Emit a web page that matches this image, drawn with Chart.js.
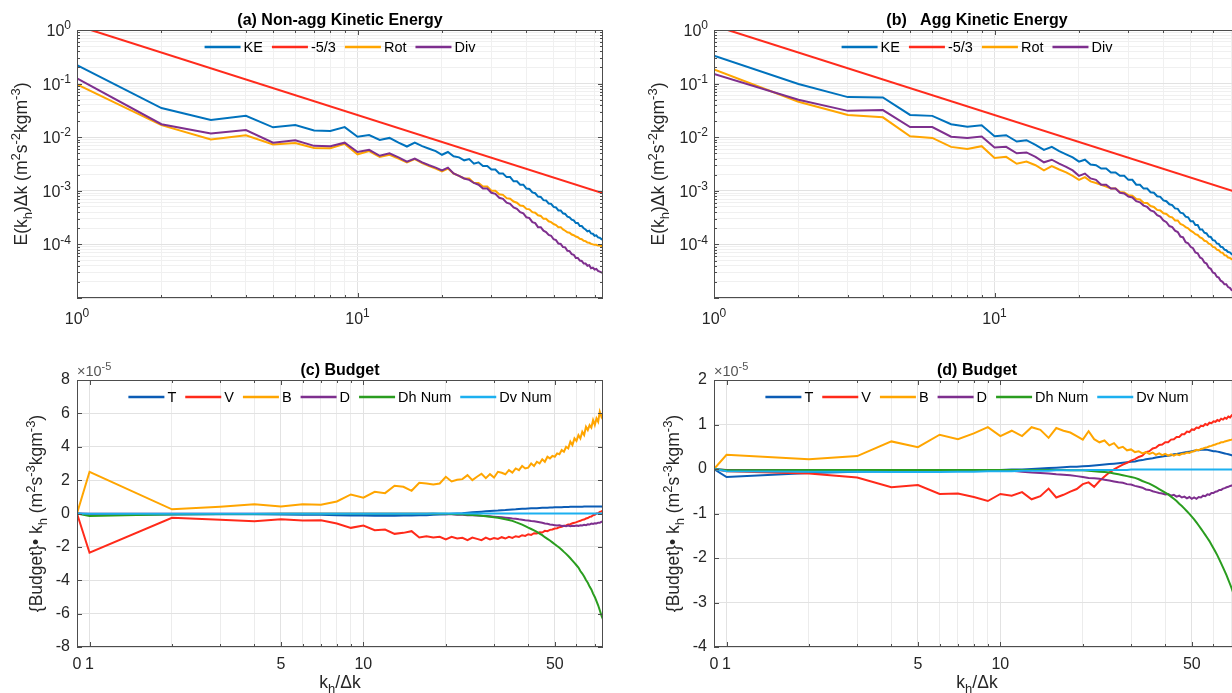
<!DOCTYPE html>
<html>
<head>
<meta charset="utf-8">
<script src="https://cdn.jsdelivr.net/npm/chart.js@4.4.1/dist/chart.umd.min.js"></script>
<style>
  html, body { margin: 0; padding: 0; background: #fff; }
  #fig { position: relative; width: 1232px; height: 693px; overflow: hidden; background: #fff; }
  #fig canvas { position: absolute; }
</style>
</head>
<body>
<div id="fig">
  <canvas id="chart-a" width="637" height="340" style="left:0;top:0"></canvas>
  <canvas id="chart-b" width="637" height="340" style="left:637px;top:0"></canvas>
  <canvas id="chart-c" width="637" height="353" style="left:0;top:340px"></canvas>
  <canvas id="chart-d" width="637" height="353" style="left:637px;top:340px"></canvas>
</div>
<script>
/* ---------- spectra (panels a, b) ---------- */
var K_SPEC = [1,2,3,4,5,6,7,8,9,10,11,12,13,14,15,16,17,18,19,20,21,22,23,24,25,26,27,28,29,30,
  31,32,33,34,35,36,37,38,39,40,41,42,43,44,45,46,47,48,49,50,51,52,53,54,55,56,57,58,59,60,
  61,62,63,64,65,66,67,68,69,70,71,72,73,74,75];

// -5/3 reference line, end points
var REF_K = [1.12, 75];
var REF_E = [1, 9.0e-4];

var KE_A = [0.22,0.035,0.021,0.025,0.0153,0.0168,0.0133,0.0131,0.0154,0.0102,
  0.011,0.0089,0.0097,0.0079,0.0067,0.0079,0.0068,0.0061,0.0055,0.0047,
  0.0053,0.0044,0.0042,0.0037,0.0039,0.0032,0.0034,0.0029,0.0029,0.0025,
  0.0025,0.0021,0.0021,0.0018,0.0018,0.0015,0.0015,0.0013,0.0013,0.0011,
  0.00108,0.00093,0.0009,0.00078,0.00077,0.00067,0.00066,0.00058,0.00057,0.0005,
  0.00049,0.00043,0.00043,0.00038,0.00037,0.00033,0.00032,0.00029,0.00028,0.00025,
  0.00025,0.00022,0.00022,0.0002,0.00019,0.000175,0.00018,0.00016,0.000158,0.000145,
  0.000148,0.000135,0.000133,0.000126,0.000122];
var ROT_A = [0.097,0.0168,0.0091,0.0109,0.0073,0.0078,0.0063,0.0062,0.0075,0.0048,
  0.0055,0.0043,0.0047,0.004,0.0034,0.0039,0.0033,0.0029,0.0026,0.0023,
  0.0026,0.0021,0.0019,0.0017,0.0017,0.0014,0.0014,0.0012,0.0012,0.001,
  0.001,0.00086,0.00084,0.00073,0.00071,0.00063,0.0006,0.00053,0.00052,0.00046,
  0.00045,0.0004,0.00039,0.00035,0.00034,0.0003,0.0003,0.00027,0.00026,0.00024,
  0.00023,0.00021,0.00021,0.00019,0.00018,0.000168,0.000165,0.000153,0.000148,0.00014,
  0.000136,0.000127,0.000125,0.000117,0.000115,0.000108,0.000107,0.000102,0.0001,0.000098,
  0.000098,0.000095,0.000095,0.000093,0.000093];
var DIV_A = [0.125,0.0175,0.0117,0.0136,0.0079,0.0088,0.0069,0.0068,0.0079,0.0053,
  0.0058,0.0045,0.005,0.0042,0.0035,0.004,0.0034,0.003,0.0027,0.0024,
  0.0027,0.0021,0.0019,0.0017,0.0016,0.0014,0.0013,0.0011,0.0011,0.00092,
  0.00088,0.00074,0.00071,0.0006,0.00057,0.00049,0.00046,0.0004,0.00038,0.00032,
  0.00031,0.00026,0.00025,0.00021,0.00021,0.00018,0.00017,0.00015,0.000145,0.000125,
  0.00012,0.000104,0.000102,0.000089,0.000088,0.000076,0.000075,0.000066,0.000064,0.000056,
  0.000056,0.00005,0.000049,0.000044,0.000044,0.00004,0.000041,0.000036,0.000037,0.000034,
  0.000035,0.000032,0.000031,0.00003,0.000029];

var KE_B = [0.33,0.098,0.056,0.055,0.026,0.025,0.0175,0.0157,0.0167,0.0104,
  0.0109,0.0083,0.0088,0.0072,0.0058,0.0066,0.0055,0.0048,0.0042,0.0035,
  0.0038,0.0031,0.003,0.0026,0.0026,0.0022,0.0022,0.0019,0.0019,0.0016,
  0.0016,0.0013,0.0013,0.0011,0.0011,0.00094,0.00092,0.00079,0.00077,0.00066,
  0.00064,0.00056,0.00054,0.00047,0.00046,0.00039,0.00038,0.00033,0.00032,0.00027,
  0.00027,0.00023,0.00023,0.00019,0.00019,0.000165,0.00016,0.00014,0.000138,0.00012,
  0.000118,0.000104,0.000102,0.00009,0.000089,0.00008,0.000078,0.000072,0.000071,0.000066,
  0.000064,0.00006,0.000058,0.000055,0.000052];
var ROT_B = [0.184,0.046,0.026,0.0235,0.0104,0.0097,0.0066,0.006,0.0068,0.0041,
  0.0043,0.0032,0.0035,0.003,0.0024,0.0029,0.0025,0.0022,0.0019,0.0016,
  0.0018,0.0015,0.0014,0.0013,0.0012,0.0011,0.0011,0.00095,0.00093,0.00083,
  0.00081,0.0007,0.00069,0.0006,0.00059,0.00052,0.0005,0.00044,0.00043,0.00038,
  0.00037,0.00033,0.00032,0.00028,0.00028,0.00024,0.00023,0.00021,0.0002,0.00018,
  0.00017,0.000155,0.00015,0.000135,0.00013,0.000117,0.000114,0.000103,0.0001,0.00009,
  0.000088,0.00008,0.000078,0.000071,0.00007,0.000063,0.000062,0.000057,0.000056,0.000053,
  0.000051,0.000048,0.000047,0.000044,0.000042];
var DIV_B = [0.152,0.05,0.031,0.032,0.0155,0.0155,0.0102,0.0097,0.0103,0.0064,
  0.0066,0.005,0.0052,0.0043,0.0034,0.0038,0.0032,0.0028,0.0024,0.0019,
  0.0021,0.0017,0.0016,0.0013,0.0013,0.0011,0.0011,0.00092,0.00089,0.00078,
  0.00075,0.00064,0.00061,0.00053,0.0005,0.00043,0.00041,0.00035,0.00033,0.00028,
  0.00026,0.00022,0.00021,0.00018,0.00017,0.00014,0.000135,0.00011,0.000105,0.00009,
  0.000085,0.000071,0.000068,0.000057,0.000054,0.000046,0.000044,0.000037,0.000035,0.00003,
  0.000029,0.000025,0.000024,0.000021,0.00002,0.000018,0.000018,0.000016,0.0000155,0.000014,
  0.0000138,0.000013,0.0000127,0.000012,0.0000115];

var SPEC_X_LABELS = [1, 10];
var SPEC_Y_LABELS = [1, 0.1, 0.01, 0.001, 0.0001];

/* ---------- budgets (panels c, d), units of 1e-5 ---------- */
var K_BUD = [0,1,2,3,4,5,6,7,8,9,10,11,12,13,14,15,16,17,18,19,20,21,22,23,24,25,26,27,28,29,30,
  31,32,33,34,35,36,37,38,39,40,41,42,43,44,45,46,47,48,49,50,51,52,53,54,55,56,57,58,59,60,
  61,62,63,64,65,66,67,68,69,70,71,72,73,74,75];
var K_ZERO = 0.9; // where k = 0 sits on the log axis (left edge)

var T_C = [0,-0.08,-0.06,-0.05,-0.05,-0.06,-0.08,-0.08,-0.1,-0.12,
  -0.12,-0.14,-0.13,-0.14,-0.12,-0.12,-0.1,-0.1,-0.08,-0.06,
  -0.04,-0.02,0,0.02,0.05,0.07,0.09,0.11,0.13,0.15,
  0.17,0.18,0.2,0.21,0.23,0.24,0.25,0.27,0.28,0.29,
  0.3,0.31,0.32,0.32,0.33,0.34,0.35,0.35,0.36,0.36,
  0.37,0.37,0.38,0.38,0.39,0.39,0.39,0.4,0.4,0.4,
  0.41,0.41,0.41,0.41,0.42,0.42,0.42,0.42,0.42,0.42,
  0.42,0.42,0.42,0.42,0.42,0.41];
var V_C = [0,-2.35,-0.26,-0.38,-0.47,-0.34,-0.42,-0.4,-0.6,-0.86,
  -0.72,-1.0,-0.96,-1.22,-1.16,-1.06,-1.44,-1.36,-1.44,-1.4,
  -1.55,-1.4,-1.5,-1.46,-1.6,-1.44,-1.52,-1.6,-1.44,-1.55,
  -1.47,-1.52,-1.42,-1.5,-1.4,-1.46,-1.36,-1.4,-1.3,-1.34,
  -1.24,-1.28,-1.18,-1.2,-1.12,-1.14,-1.04,-1.06,-0.98,-0.96,
  -0.9,-0.88,-0.82,-0.8,-0.74,-0.72,-0.66,-0.64,-0.58,-0.56,
  -0.52,-0.47,-0.44,-0.38,-0.36,-0.3,-0.27,-0.2,-0.18,-0.1,
  -0.08,0,0.02,0.1,0.12,0.2];
var B_C = [0,2.5,0.25,0.4,0.55,0.42,0.56,0.52,0.72,1.14,
  0.95,1.3,1.22,1.66,1.6,1.36,1.84,1.8,1.74,1.8,
  2.2,1.92,2.02,2.06,2.3,2.0,2.2,2.38,2.12,2.36,
  2.16,2.5,2.44,2.35,2.6,2.45,2.7,2.6,2.85,2.7,
  2.75,3.0,2.85,3.1,3.0,3.25,3.1,3.4,3.3,3.45,
  3.4,3.6,3.55,3.8,3.7,4.0,3.9,4.3,4.1,4.5,
  4.35,4.7,4.5,4.9,4.7,5.2,5.0,5.3,5.15,5.6,
  5.3,5.7,5.5,6.1,5.8,6.05];
var D_C = [0,-0.02,-0.02,-0.02,-0.02,-0.02,-0.02,-0.02,-0.02,-0.02,
  -0.02,-0.02,-0.02,-0.02,-0.02,-0.02,-0.02,-0.02,-0.02,-0.03,
  -0.04,-0.05,-0.07,-0.08,-0.1,-0.11,-0.12,-0.14,-0.15,-0.17,
  -0.19,-0.21,-0.23,-0.25,-0.27,-0.3,-0.32,-0.35,-0.37,-0.4,
  -0.42,-0.45,-0.47,-0.5,-0.53,-0.56,-0.6,-0.62,-0.66,-0.68,
  -0.7,-0.72,-0.7,-0.75,-0.73,-0.76,-0.72,-0.76,-0.73,-0.75,
  -0.72,-0.74,-0.7,-0.72,-0.68,-0.7,-0.65,-0.66,-0.6,-0.63,
  -0.58,-0.6,-0.55,-0.56,-0.5,-0.5];
var DH_C = [0,-0.15,-0.05,-0.03,-0.03,-0.02,-0.02,-0.02,-0.02,-0.02,
  -0.02,-0.02,-0.02,-0.02,-0.02,-0.02,-0.02,-0.02,-0.02,-0.02,
  -0.02,-0.03,-0.04,-0.05,-0.07,-0.09,-0.11,-0.13,-0.16,-0.19,
  -0.22,-0.26,-0.3,-0.34,-0.39,-0.44,-0.52,-0.59,-0.67,-0.76,
  -0.85,-0.93,-1.01,-1.1,-1.2,-1.3,-1.42,-1.52,-1.62,-1.73,
  -1.84,-1.95,-2.05,-2.17,-2.3,-2.42,-2.55,-2.68,-2.82,-2.96,
  -3.1,-3.24,-3.45,-3.6,-3.78,-3.98,-4.15,-4.38,-4.55,-4.8,
  -5.0,-5.25,-5.5,-5.8,-6.1,-6.35];
var DV_C = [0,-0.02,-0.01,-0.01,-0.01,-0.01,-0.01,-0.01,-0.01,-0.01,
  -0.01,-0.01,-0.01,-0.01,-0.01,-0.01,-0.01,-0.01,0,0,
  0,0,0,0,0,0,0,0,0,0,
  0,0,0,0,0,0,0,0,0,0,
  0,0,0,0,0,0,0,0,0,0,
  0,0,0,0,0,0,0,0,0,0,
  0,0,0,0,0,0,0,0,0,0,
  0,0,0,0,0,0];

var T_D = [0,-0.18,-0.09,-0.06,-0.05,-0.04,-0.04,-0.04,-0.03,-0.03,
  -0.02,-0.01,-0.01,0,0.01,0.02,0.03,0.04,0.05,0.05,
  0.06,0.07,0.08,0.09,0.1,0.11,0.12,0.13,0.14,0.15,
  0.16,0.17,0.19,0.2,0.22,0.23,0.24,0.26,0.27,0.28,
  0.29,0.3,0.31,0.33,0.34,0.35,0.36,0.37,0.38,0.39,
  0.4,0.41,0.42,0.42,0.43,0.43,0.44,0.43,0.42,0.41,
  0.4,0.4,0.39,0.38,0.37,0.36,0.35,0.34,0.33,0.32,
  0.31,0.3,0.29,0.28,0.27,0.26];
var V_D = [0,-0.05,-0.1,-0.19,-0.41,-0.36,-0.56,-0.55,-0.63,-0.72,
  -0.56,-0.6,-0.52,-0.68,-0.61,-0.44,-0.64,-0.58,-0.51,-0.45,
  -0.34,-0.3,-0.4,-0.27,-0.17,-0.08,-0.01,0.05,0.1,0.14,
  0.19,0.22,0.27,0.3,0.38,0.4,0.46,0.48,0.54,0.55,
  0.6,0.6,0.66,0.67,0.72,0.72,0.78,0.78,0.84,0.83,
  0.89,0.88,0.93,0.92,0.97,0.96,1.01,0.99,1.04,1.03,
  1.07,1.06,1.1,1.08,1.13,1.11,1.15,1.13,1.18,1.16,
  1.21,1.19,1.23,1.21,1.25,1.24];
var B_D = [0,0.32,0.22,0.29,0.62,0.49,0.77,0.67,0.8,0.94,
  0.74,0.86,0.74,0.94,0.88,0.7,0.92,0.86,0.82,0.74,
  0.66,0.85,0.67,0.6,0.64,0.53,0.58,0.47,0.5,0.42,
  0.44,0.38,0.4,0.35,0.38,0.34,0.37,0.32,0.35,0.31,
  0.34,0.3,0.33,0.3,0.33,0.31,0.34,0.34,0.37,0.36,
  0.39,0.4,0.43,0.42,0.45,0.46,0.48,0.49,0.51,0.52,
  0.54,0.55,0.57,0.58,0.6,0.6,0.62,0.63,0.64,0.65,
  0.66,0.68,0.69,0.7,0.71,0.72];
var D_D = [0,-0.02,-0.02,-0.02,-0.02,-0.02,-0.02,-0.02,-0.02,-0.02,
  -0.03,-0.04,-0.06,-0.08,-0.09,-0.1,-0.12,-0.13,-0.14,-0.16,
  -0.18,-0.2,-0.21,-0.22,-0.24,-0.26,-0.28,-0.3,-0.31,-0.34,
  -0.35,-0.38,-0.4,-0.42,-0.46,-0.47,-0.5,-0.52,-0.54,-0.55,
  -0.57,-0.56,-0.6,-0.58,-0.62,-0.6,-0.64,-0.62,-0.66,-0.63,
  -0.67,-0.64,-0.67,-0.63,-0.64,-0.6,-0.61,-0.57,-0.58,-0.54,
  -0.54,-0.51,-0.5,-0.47,-0.47,-0.44,-0.43,-0.41,-0.4,-0.38,
  -0.37,-0.35,-0.34,-0.32,-0.31,-0.3];
var DH_D = [0,-0.03,-0.02,-0.02,-0.02,-0.02,-0.02,-0.02,-0.02,-0.02,
  -0.02,-0.02,-0.02,-0.02,-0.02,-0.02,-0.02,-0.02,-0.03,-0.03,
  -0.03,-0.04,-0.05,-0.06,-0.07,-0.08,-0.1,-0.12,-0.14,-0.16,
  -0.18,-0.2,-0.23,-0.27,-0.3,-0.33,-0.37,-0.41,-0.45,-0.49,
  -0.53,-0.57,-0.62,-0.67,-0.72,-0.78,-0.83,-0.89,-0.95,-1.01,
  -1.07,-1.13,-1.2,-1.27,-1.34,-1.41,-1.48,-1.55,-1.62,-1.7,
  -1.78,-1.86,-1.94,-2.03,-2.12,-2.21,-2.3,-2.39,-2.49,-2.59,
  -2.69,-2.8,-2.91,-3.02,-3.14,-3.26];
var DV_D = [0,-0.05,-0.06,-0.06,-0.07,-0.07,-0.07,-0.06,-0.06,-0.05,
  -0.05,-0.05,-0.04,-0.04,-0.04,-0.04,-0.03,-0.03,-0.03,-0.03,
  -0.03,-0.02,-0.02,-0.02,-0.02,-0.02,-0.02,-0.02,-0.02,-0.02,
  -0.01,-0.01,-0.01,-0.01,-0.01,-0.01,-0.01,-0.01,-0.01,-0.01,
  -0.01,-0.01,-0.01,-0.01,-0.01,-0.01,-0.01,-0.01,-0.01,-0.01,
  -0.01,-0.01,-0.01,-0.01,-0.01,-0.01,-0.01,-0.01,-0.01,-0.01,
  -0.01,-0.01,-0.01,-0.01,-0.01,-0.01,-0.01,-0.01,-0.01,-0.01,
  -0.01,-0.01,-0.01,-0.01,-0.01,-0.01];

var BUD_X_LABELS = [1, 5, 10, 50];

/* ---------- look ---------- */
var FONT = '"Liberation Sans", Arial, Helvetica, sans-serif';
var TXT = '#262626';
var AXIS = '#4d4d4d';
var GRID_MAJOR = '#e2e2e2';
var GRID_MINOR = '#f0f0f0';
var COL = {
  ke: '#0072BD', ref: '#FF2B1C', rot: '#FFA500', div: '#7E2F8E',
  t: '#0B5CB5', v: '#FF2A1A', b: '#FFA500', d: '#7E2F8E', dh: '#2A9D1F', dv: '#1CB0F0'
};

Chart.defaults.font.family = FONT;
Chart.defaults.font.size = 16;
Chart.defaults.color = TXT;

/* ---------- helpers ---------- */
function isDecade(v){
  var l = Math.log10(v);
  return Math.abs(l - Math.round(l)) < 1e-6;
}
function sameVal(a, b){ return Math.abs(a - b) < 1e-9 * Math.max(1, Math.abs(a)); }
function inList(v, list){
  for (var i = 0; i < list.length; i++) if (Math.abs(v - list[i]) / list[i] < 1e-6) return true;
  return false;
}
// "10" with a raised exponent, drawn as rich text
function powSegs(v){ return [['10', 0], [String(Math.round(Math.log10(v))), 1]]; }

// 1..9 x 10^n between lo and hi (grid and tick positions)
function logTicks(lo, hi){
  var out = [];
  for (var e = Math.floor(Math.log10(lo)); e <= Math.ceil(Math.log10(hi)); e++) {
    for (var m = 1; m < 10; m++) {
      var v = +(m * Math.pow(10, e)).toPrecision(6);
      if (v >= lo * 0.9999 && v <= hi * 1.0001) out.push(v);
    }
  }
  return out;
}
function pts(xs, ys){
  return ys.map(function(v, i){ return {x: xs[i] === 0 ? K_ZERO : xs[i], y: v}; });
}
function line(label, xs, ys, color){
  return {label: label, data: pts(xs, ys), borderColor: color, backgroundColor: color,
    borderWidth: 2, pointRadius: 0, tension: 0, fill: false};
}

// rich text: segs = [[text, kind]], kind 0 normal, 1 superscript, -1 subscript
function richWidth(ctx, segs, size){
  var w = 0;
  segs.forEach(function(s){
    ctx.font = (s[1] ? Math.round(size * 0.74) : size) + 'px ' + FONT;
    w += ctx.measureText(s[0]).width;
  });
  return w;
}
function drawRich(ctx, segs, x, y, size){
  ctx.textAlign = 'left';
  ctx.textBaseline = 'alphabetic';
  segs.forEach(function(s){
    var sz = s[1] ? Math.round(size * 0.74) : size;
    var dy = s[1] === 1 ? -size * 0.42 : (s[1] === -1 ? size * 0.28 : 0);
    ctx.font = sz + 'px ' + FONT;
    ctx.fillText(s[0], x, y + dy);
    x += ctx.measureText(s[0]).width;
  });
}

var YLAB_SPEC = [['E(k',0],['h',-1],[')\u0394k (m',0],['2',1],['s',0],['-2',1],['kgm',0],['-3',1],[')',0]];
var YLAB_BUD = [['{Budget}\u2022 k',0],['h',-1],[' (m',0],['2',1],['s',0],['-3',1],['kgm',0],['-3',1],[')',0]];
var XLAB_BUD = [['k',0],['h',-1],['/\u0394k',0]];
var EXP_BUD = [['\u00D710',0],['-5',1]];

var DECOR = {
  'chart-a': {title: '(a) Non-agg Kinetic Energy', ylab: YLAB_SPEC, ylabX: 21, legendDy: 17, logLabels: true},
  'chart-b': {title: '(b)   Agg Kinetic Energy', ylab: YLAB_SPEC, ylabX: 21, legendDy: 17, logLabels: true},
  'chart-c': {title: '(c) Budget', ylab: YLAB_BUD, ylabX: 36, legendDy: 17, xlab: XLAB_BUD, xlabY: 348, exp: EXP_BUD},
  'chart-d': {title: '(d) Budget', ylab: YLAB_BUD, ylabX: 36, legendDy: 17, xlab: XLAB_BUD, xlabY: 348, exp: EXP_BUD}
};

/* ---------- frame: box, inner ticks, legend, titles ---------- */
var figPlugin = {
  id: 'figDecor',
  afterDraw: function(chart){
    var d = DECOR[chart.canvas.id];
    var ctx = chart.ctx, a = chart.chartArea;
    var xs = chart.scales.x, ys = chart.scales.y;
    var budget = !!d.xlab;
    ctx.save();

    // inner tick marks on all four sides
    ctx.strokeStyle = AXIS;
    ctx.lineWidth = 1;
    ctx.beginPath();
    xs.ticks.forEach(function(t){
      var px = Math.round(xs.getPixelForValue(t.value)) + 0.5;
      var major = budget ? inList(t.value, BUD_X_LABELS) : isDecade(t.value);
      var len = major ? 5 : 3;
      ctx.moveTo(px, a.bottom); ctx.lineTo(px, a.bottom - len);
      ctx.moveTo(px, a.top); ctx.lineTo(px, a.top + len);
    });
    ys.ticks.forEach(function(t){
      var py = Math.round(ys.getPixelForValue(t.value)) + 0.5;
      var len = (ys.type === 'logarithmic' && !isDecade(t.value)) ? 3 : 5;
      ctx.moveTo(a.left, py); ctx.lineTo(a.left + len, py);
      ctx.moveTo(a.right, py); ctx.lineTo(a.right - len, py);
    });
    ctx.stroke();
    ctx.strokeRect(a.left + 0.5, a.top + 0.5, a.right - a.left - 1, a.bottom - a.top - 1);

    // power-of-ten tick labels for the log-log panels
    if (d.logLabels) {
      ctx.fillStyle = TXT;
      SPEC_Y_LABELS.forEach(function(v){
        var segs = powSegs(v);
        var w = richWidth(ctx, segs, 16);
        drawRich(ctx, segs, a.left - 6 - w, ys.getPixelForValue(v) + 6, 16);
      });
      SPEC_X_LABELS.forEach(function(v){
        var segs = powSegs(v);
        var w = richWidth(ctx, segs, 16);
        drawRich(ctx, segs, xs.getPixelForValue(v) - w / 2, a.bottom + 26, 16);
      });
    }

    // legend inside the plot, top centre, no box
    var LSZ = 14.5, LINE = 36, GAP1 = 3, GAP2 = 9;
    ctx.font = LSZ + 'px ' + FONT;
    var items = chart.data.datasets.map(function(ds){
      return {label: ds.label, color: ds.borderColor, w: ctx.measureText(ds.label).width};
    });
    var total = GAP2 * (items.length - 1);
    items.forEach(function(it){ total += LINE + GAP1 + it.w; });
    var lx = (a.left + a.right) / 2 - total / 2;
    var ly = a.top + d.legendDy;
    ctx.textBaseline = 'middle';
    ctx.textAlign = 'left';
    items.forEach(function(it){
      ctx.strokeStyle = it.color;
      ctx.lineWidth = 2.5;
      ctx.beginPath();
      ctx.moveTo(lx, ly); ctx.lineTo(lx + LINE, ly);
      ctx.stroke();
      ctx.fillStyle = '#000';
      ctx.fillText(it.label, lx + LINE + GAP1, ly + 1);
      lx += LINE + GAP1 + it.w + GAP2;
    });

    // title
    ctx.fillStyle = '#000';
    ctx.font = 'bold 16px ' + FONT;
    ctx.textAlign = 'center';
    ctx.textBaseline = 'alphabetic';
    ctx.fillText(d.title, (a.left + a.right) / 2, a.top - 5);

    // y label (rotated)
    ctx.fillStyle = TXT;
    var YSZ = 17.5;
    var w = richWidth(ctx, d.ylab, YSZ);
    ctx.save();
    ctx.translate(d.ylabX + 6, (a.top + a.bottom) / 2);
    ctx.rotate(-Math.PI / 2);
    drawRich(ctx, d.ylab, -w / 2, 0, YSZ);
    ctx.restore();

    // x label
    if (d.xlab) {
      var xw = richWidth(ctx, d.xlab, YSZ);
      drawRich(ctx, d.xlab, (a.left + a.right) / 2 - xw / 2, d.xlabY, YSZ);
    }
    // exponent marker
    if (d.exp) {
      ctx.fillStyle = '#555';
      drawRich(ctx, d.exp, a.left, a.top - 4, 14.5);
    }
    ctx.restore();
  }
};

/* ---------- scales ---------- */
function gridColorLog(c){ return c.tick && isDecade(c.tick.value) ? GRID_MAJOR : GRID_MINOR; }

function specScales(){
  return {
    x: {
      type: 'logarithmic', min: 1, max: 75,
      afterBuildTicks: function(s){ s.ticks = logTicks(1, 75).map(function(v){ return {value: v}; }); },
      afterFit: function(s){ s.height = 42; },
      ticks: {autoSkip: false, maxRotation: 0, padding: 10, callback: function(){ return ''; }},
      grid: {color: gridColorLog, drawTicks: false},
      border: {display: false}
    },
    y: {
      type: 'logarithmic', min: 1e-5, max: 1,
      afterBuildTicks: function(s){ s.ticks = logTicks(1e-5, 1).map(function(v){ return {value: v}; }); },
      afterFit: function(s){ s.width = 77; },
      ticks: {autoSkip: false, padding: 7, callback: function(){ return ''; }},
      grid: {color: gridColorLog, drawTicks: false},
      border: {display: false}
    }
  };
}

function budScales(ymin, ymax, step){
  return {
    x: {
      type: 'logarithmic', min: K_ZERO, max: 75,
      afterBuildTicks: function(s){
        s.ticks = [K_ZERO].concat(logTicks(1, 75)).map(function(v){ return {value: v}; });
      },
      afterFit: function(s){ s.height = 46; },
      ticks: {autoSkip: false, maxRotation: 0, padding: 8, color: TXT,
        callback: function(v){
          if (sameVal(v, K_ZERO)) return '0';
          return inList(v, BUD_X_LABELS) ? String(Math.round(v)) : '';
        }},
      grid: {color: function(c){ return c.tick && inList(c.tick.value, BUD_X_LABELS) ? GRID_MAJOR : '#ececec'; },
        drawTicks: false},
      border: {display: false}
    },
    y: {
      type: 'linear', min: ymin, max: ymax,
      afterFit: function(s){ s.width = 77; },
      ticks: {stepSize: step, padding: 7, color: TXT},
      grid: {color: GRID_MAJOR, drawTicks: false},
      border: {display: false}
    }
  };
}

function makeChart(id, datasets, scales, padTop){
  var el = document.getElementById(id);
  if (!el || el._ch) return;
  datasets.forEach(function(ds, i){ ds.order = -i; });
  el._ch = new Chart(el, {
    type: 'line',
    data: {datasets: datasets},
    options: {
      responsive: false, animation: false, devicePixelRatio: 1, events: [],
      layout: {padding: {top: padTop, right: 34, left: 0, bottom: 0}},
      plugins: {legend: {display: false}, tooltip: {enabled: false}, title: {display: false}},
      scales: scales
    },
    plugins: [figPlugin]
  });
}

makeChart('chart-a', [
  line('KE', K_SPEC, KE_A, COL.ke),
  line('-5/3', REF_K, REF_E, COL.ref),
  line('Rot', K_SPEC, ROT_A, COL.rot),
  line('Div', K_SPEC, DIV_A, COL.div)
], specScales(), 30);

makeChart('chart-b', [
  line('KE', K_SPEC, KE_B, COL.ke),
  line('-5/3', REF_K, REF_E, COL.ref),
  line('Rot', K_SPEC, ROT_B, COL.rot),
  line('Div', K_SPEC, DIV_B, COL.div)
], specScales(), 30);

makeChart('chart-c', [
  line('T', K_BUD, T_C, COL.t),
  line('V', K_BUD, V_C, COL.v),
  line('B', K_BUD, B_C, COL.b),
  line('D', K_BUD, D_C, COL.d),
  line('Dh Num', K_BUD, DH_C, COL.dh),
  line('Dv Num', K_BUD, DV_C, COL.dv)
], budScales(-8, 8, 2), 40);

makeChart('chart-d', [
  line('T', K_BUD, T_D, COL.t),
  line('V', K_BUD, V_D, COL.v),
  line('B', K_BUD, B_D, COL.b),
  line('D', K_BUD, D_D, COL.d),
  line('Dh Num', K_BUD, DH_D, COL.dh),
  line('Dv Num', K_BUD, DV_D, COL.dv)
], budScales(-4, 2, 1), 40);
</script>
</body>
</html>
